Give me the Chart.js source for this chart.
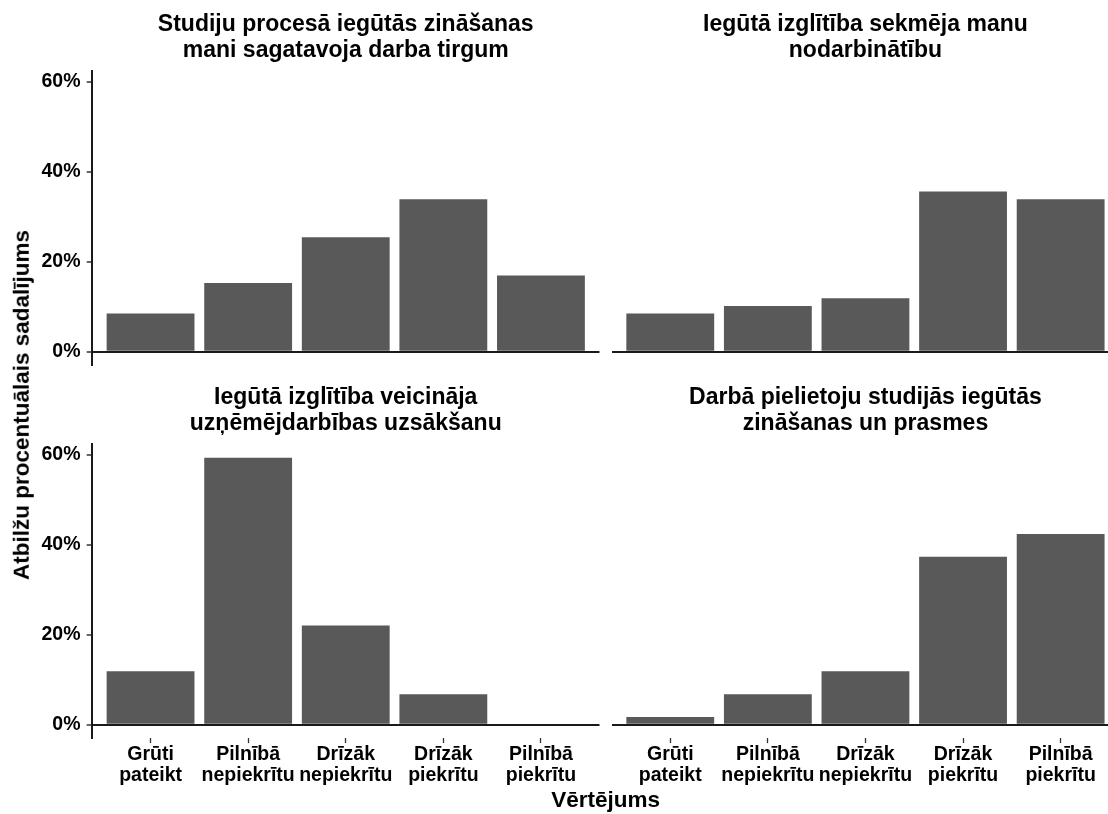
<!DOCTYPE html>
<html>
<head>
<meta charset="utf-8">
<script src="https://cdn.jsdelivr.net/npm/chart.js@4.4.1/dist/chart.umd.min.js"></script>
<style>
  html, body { margin: 0; padding: 0; background: #fff; overflow: hidden; }
  body { width: 1108px; height: 814px; position: relative; font-family: "Liberation Sans", Arial, sans-serif; }
  canvas { position: absolute; }
  .axtitle { position: absolute; font-weight: bold; font-size: 22.5px; line-height: 1; white-space: nowrap; color: #000; }
</style>
</head>
<body>
<canvas id="c1" style="left:0px;top:0px;width:606px;height:372px"></canvas>
<canvas id="c2" style="left:604px;top:0px;width:526px;height:372px"></canvas>
<canvas id="c3" style="left:0px;top:373px;width:606px;height:441px"></canvas>
<canvas id="c4" style="left:604px;top:373px;width:526px;height:441px"></canvas>
<div class="axtitle" style="left:22px;top:404.5px;transform:translate(-50%,-50%) rotate(-90deg)">Atbilžu procentuālais sadalījums</div>
<div class="axtitle" style="left:605.6px;top:789px;transform:translateX(-50%)">Vērtējums</div>
<script>
// kategorijas (x ass)
const kategorijas = ['Grūti pateikt', 'Pilnībā nepiekrītu', 'Drīzāk nepiekrītu', 'Drīzāk piekrītu', 'Pilnībā piekrītu'];
const kategorijuRindas = [['Grūti', 'pateikt'], ['Pilnībā', 'nepiekrītu'], ['Drīzāk', 'nepiekrītu'], ['Drīzāk', 'piekrītu'], ['Pilnībā', 'piekrītu']];

// virsraksti
const virsraksts1 = ['Studiju procesā iegūtās zināšanas', 'mani sagatavoja darba tirgum'];
const virsraksts2 = ['Iegūtā izglītība sekmēja manu', 'nodarbinātību'];
const virsraksts3 = ['Iegūtā izglītība veicināja', 'uzņēmējdarbības uzsākšanu'];
const virsraksts4 = ['Darbā pielietoju studijās iegūtās', 'zināšanas un prasmes'];

// procenti (%)
const darbaTirgus = [8.47, 15.25, 25.42, 33.90, 16.95];
const nodarbinatiba = [8.47, 10.17, 11.86, 35.59, 33.90];
const uznemejdarbiba = [11.86, 59.32, 22.03, 6.78, 0];
const zinasanas = [1.69, 6.78, 11.86, 37.29, 42.37];

const yTicks = [0, 20, 40, 60];

const fonts = "'Liberation Sans', Arial, sans-serif";
const barColor = '#595959';
const lineColor = '#1a1a1a';

function TaisitGrafiku(id, virsraksts, vertibas, arY, arX) {
  const xAxisHeight = arX ? 75.9 : 6.9;
  const yAxisWidth = arY ? 92 : 7.7;
  const padRight = arY ? 6.5 : 10.8;

  return new Chart(document.getElementById(id), {
    type: 'bar',
    data: {
      datasets: [{
        data: kategorijas.map((k, i) => ({ x: i + 1, y: vertibas[i] })),
        backgroundColor: barColor,
        borderWidth: 0,
        barPercentage: 0.9,
        categoryPercentage: 1.0
      }]
    },
    options: {
      responsive: false,
      animation: false,
      layout: { padding: { left: 0, right: padRight, top: 0, bottom: 0 } },
      plugins: {
        legend: { display: false },
        tooltip: { enabled: false },
        title: {
          display: true,
          fullSize: false,
          text: virsraksts,
          color: '#000',
          font: { family: fonts, size: 23, weight: 'bold', lineHeight: 1.13 },
          padding: { top: 11.3, bottom: 8.1 }
        }
      },
      scales: {
        x: {
          type: 'linear',
          min: 0.4,
          max: 5.6,
          offset: false,
          afterBuildTicks: (scale) => { scale.ticks = kategorijas.map((k, i) => ({ value: i + 1 })); },
          afterFit: (scale) => { scale.height = xAxisHeight; scale.paddingLeft = 0; scale.paddingRight = 0; },
          border: { display: false },
          grid: {
            display: arX,
            offset: false,
            drawOnChartArea: false,
            drawTicks: true,
            tickLength: 5,
            tickColor: '#333',
            tickWidth: 1.3
          },
          ticks: {
            display: arX,
            autoSkip: false,
            maxRotation: 0,
            padding: 1,
            color: '#000',
            font: { family: fonts, size: 19.5, weight: 'bold', lineHeight: 1.08 },
            callback: (v) => kategorijuRindas[v - 1]
          }
        },
        y: {
          min: -2.97,
          max: 62.28,
          z: 1,
          afterBuildTicks: (scale) => { scale.ticks = yTicks.map(v => ({ value: v })); },
          afterFit: (scale) => { scale.width = yAxisWidth; scale.paddingTop = 0; scale.paddingBottom = 0; },
          border: { display: arY, color: lineColor, width: 2 },
          grid: {
            drawOnChartArea: true,
            color: (ctx) => ctx.tick && ctx.tick.value === 0 ? lineColor : 'rgba(0,0,0,0)',
            lineWidth: 2,
            drawTicks: arY,
            tickLength: 5.3,
            tickColor: '#333',
            tickWidth: 1.5
          },
          ticks: {
            display: arY,
            padding: 6.2,
            color: '#000',
            font: { family: fonts, size: 19.5, weight: 'bold' },
            callback: (v) => v + '%'
          }
        }
      }
    }
  });
}

TaisitGrafiku('c1', virsraksts1, darbaTirgus, true, false);
TaisitGrafiku('c2', virsraksts2, nodarbinatiba, false, false);
TaisitGrafiku('c3', virsraksts3, uznemejdarbiba, true, true);
TaisitGrafiku('c4', virsraksts4, zinasanas, false, true);
</script>
</body>
</html>
